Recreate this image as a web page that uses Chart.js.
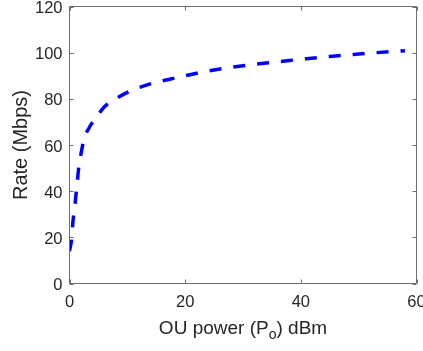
<!DOCTYPE html>
<html>
<head>
<meta charset="utf-8">
<script src="https://cdn.jsdelivr.net/npm/chart.js@4"></script>
<style>
  html, body { margin: 0; padding: 0; background: #fff; }
  canvas { display: block; }
</style>
</head>
<body>
<canvas id="rateChart" width="423" height="351"></canvas>
<script>
(function () {
    'use strict';

    // values
    var power = [0, 0.4, 0.6, 0.9, 1.1, 1.35, 1.6, 2.0, 2.5, 3.5, 4.7, 6, 8, 10, 12.5, 15, 17.5, 20, 23, 26, 29, 32, 35, 38, 41, 44, 47, 50, 53, 56, 58];
    var rate = [14, 20, 27, 33, 38, 44, 50.5, 56.3, 62.5, 67.9, 72.2, 76.5, 80, 82.8, 85.3, 87.2, 88.6, 90, 91.6, 92.9, 94, 95, 95.8, 96.6, 97.4, 98.1, 98.8, 99.4, 100, 100.5, 100.8];
    var xTicks = [0, 20, 40, 60];
    var yTicks = [0, 20, 40, 60, 80, 100, 120];

    var FONT = "'Liberation Sans', Arial, Helvetica, sans-serif";
    var TEXT = '#262626';
    var BOX = '#6e6e6e';

    var points = power.map(function (p, i) { return { x: p, y: rate[i] }; });

    // MATLAB-like box with inward ticks plus the two axis titles
    var boxAxes = {
        id: 'boxAxes',
        afterDraw: function (chart) {
            var ctx = chart.ctx;
            var a = chart.chartArea;
            var sx = chart.scales.x;
            var sy = chart.scales.y;
            var tl = 4;
            ctx.save();
            ctx.strokeStyle = BOX;
            ctx.lineWidth = 1;
            ctx.beginPath();
            ctx.rect(a.left, a.top, a.right - a.left, a.bottom - a.top);
            xTicks.forEach(function (v) {
                var px = Math.round(sx.getPixelForValue(v)) + 0.5;
                ctx.moveTo(px, a.bottom); ctx.lineTo(px, a.bottom - tl);
                ctx.moveTo(px, a.top); ctx.lineTo(px, a.top + tl);
            });
            yTicks.forEach(function (v) {
                var py = Math.round(sy.getPixelForValue(v)) + 0.5;
                ctx.moveTo(a.left, py); ctx.lineTo(a.left + tl, py);
                ctx.moveTo(a.right, py); ctx.lineTo(a.right - tl, py);
            });
            ctx.stroke();

            ctx.fillStyle = TEXT;
            // x title with subscript
            var big = '19px ' + FONT, small = '14px ' + FONT;
            var parts = [['OU power (P', big, 0], ['o', small, 5], [') dBm', big, 0]];
            var total = 0;
            parts.forEach(function (p) { ctx.font = p[1]; total += ctx.measureText(p[0]).width; });
            var x = (a.left + a.right) / 2 - total / 2;
            var base = 334;
            ctx.textBaseline = 'alphabetic';
            ctx.textAlign = 'left';
            parts.forEach(function (p) {
                ctx.font = p[1];
                ctx.fillText(p[0], x, base + p[2]);
                x += ctx.measureText(p[0]).width;
            });

            // y title
            ctx.translate(21, (a.top + a.bottom) / 2);
            ctx.rotate(-Math.PI / 2);
            ctx.font = '20px ' + FONT;
            ctx.textAlign = 'center';
            ctx.textBaseline = 'middle';
            ctx.fillText('Rate (Mbps)', 0, 0);
            ctx.restore();
        }
    };

    new Chart(document.getElementById('rateChart'), {
        type: 'line',
        data: {
            datasets: [{
                data: points,
                borderColor: '#0000ff',
                borderWidth: 3.5,
                borderDash: [12, 12],
                pointRadius: 0,
                fill: false,
                cubicInterpolationMode: 'monotone'
            }]
        },
        options: {
            responsive: false,
            animation: false,
            layout: { padding: { left: 0, top: 6.5, right: 6.5, bottom: 0 } },
            plugins: { legend: { display: false }, tooltip: { enabled: false } },
            scales: {
                x: {
                    type: 'linear',
                    min: 0,
                    max: 60,
                    grid: { display: false, drawTicks: false },
                    border: { display: false },
                    afterBuildTicks: function (s) { s.ticks = xTicks.map(function (v) { return { value: v }; }); },
                    afterFit: function (s) { s.height = 67.5; s.paddingLeft = 0; s.paddingRight = 0; },
                    ticks: { autoSkip: false, maxRotation: 0, padding: 9, color: TEXT, font: { family: FONT, size: 16.5 } }
                },
                y: {
                    min: 0,
                    max: 120,
                    grid: { display: false, drawTicks: false },
                    border: { display: false },
                    afterBuildTicks: function (s) { s.ticks = yTicks.map(function (v) { return { value: v }; }); },
                    afterFit: function (s) { s.width = 69.5; s.paddingTop = 0; s.paddingBottom = 0; },
                    ticks: { padding: 7, labelOffset: 2, color: TEXT, font: { family: FONT, size: 16.5 } }
                }
            }
        },
        plugins: [boxAxes]
    });
})();
</script>
</body>
</html>
